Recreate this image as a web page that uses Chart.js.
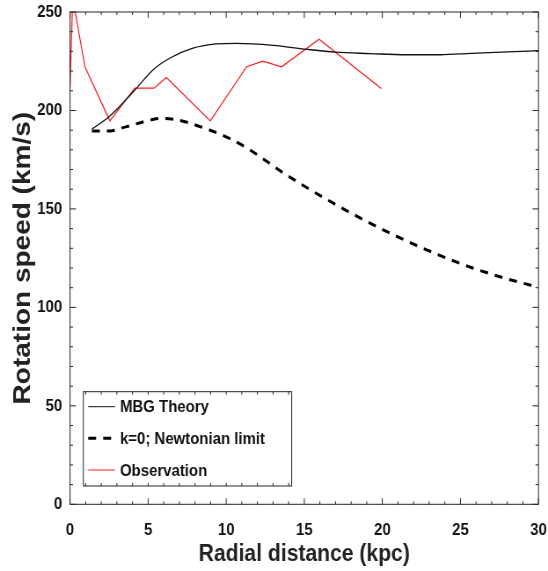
<!DOCTYPE html>
<html><head><meta charset="utf-8">
<script src="https://cdn.jsdelivr.net/npm/chart.js@4.4.1/dist/chart.umd.min.js"></script>
<style>html,body{margin:0;padding:0;background:#fff;overflow:hidden}</style>
</head><body>
<canvas id="c" width="623" height="571" style="width:548px;height:571px;display:block"></canvas>
<script>
// ---- data ----
const obsX  = [0, 0.17, 0.96, 2.55, 4.15, 5.38, 6.17, 8.98, 11.31, 12.34, 13.55, 15.95, 19.93];
const obsY  = [211, 257, 222, 194.7, 211.3, 211.3, 216.7, 194.7, 222.2, 225, 222.2, 236.2, 211.1];
const mbgX  = [1.4, 2.55, 4.15, 5.31, 6.38, 7.87, 9.36, 10.64, 13.0, 15.1, 17.0, 19.2, 21.5, 23.7, 25.7, 28.0, 30];
const mbgY  = [190.5, 197.2, 210.4, 220.6, 226.5, 231.6, 233.8, 234.1, 233.1, 231.1, 229.6, 228.9, 228.3, 228.3, 229.0, 229.7, 230.4];
const newtX = [1.4, 2.55, 3.63, 5.95, 8.93, 11.1, 13.87, 16.86, 19.85, 22.84, 25.82, 29.45, 30];
const newtY = [189.6, 189.6, 191.8, 196.0, 190.1, 182.0, 167.2, 152.9, 140.2, 129.2, 119.9, 111.4, 110.5];
const xTickLabels = [0, 5, 10, 15, 20, 25, 30];
const yTickLabels = [0, 50, 100, 150, 200, 250];
const seriesLabels = ['MBG Theory', 'k=0; Newtonian limit', 'Observation'];

const toPts = (xs, ys) => xs.map((x, i) => ({x, y: ys[i]}));
const FAM = "'Liberation Sans', Arial, sans-serif";
const FRAME = '#262626';

const frameTicks = {
  id: 'frameTicks',
  afterDatasetsDraw(chart) {
    const {ctx, chartArea: a, scales: {x, y}} = chart;
    ctx.save();
    ctx.strokeStyle = FRAME; ctx.lineWidth = 1;
    ctx.beginPath();
    x.ticks.forEach(t => {
      const px = x.getPixelForValue(t.value);
      const L = xTickLabels.includes(t.value) ? 6 : 3;
      ctx.moveTo(px, a.bottom); ctx.lineTo(px, a.bottom - L);
      ctx.moveTo(px, a.top); ctx.lineTo(px, a.top + L);
    });
    y.ticks.forEach(t => {
      const py = y.getPixelForValue(t.value);
      const L = yTickLabels.includes(t.value) ? 6.8 : 3.4;
      ctx.moveTo(a.left, py); ctx.lineTo(a.left + L, py);
      ctx.moveTo(a.right, py); ctx.lineTo(a.right - L, py);
    });
    ctx.stroke();
    ctx.strokeRect(a.left, a.top, a.right - a.left, a.bottom - a.top);
    ctx.restore();
  }
};

const legendBox = {
  id: 'legendBox',
  afterDraw(chart) {
    const ctx = chart.ctx;
    const L = 94.7, R = 331.6, T = 391.7, B = 486;
    const x = chart.scales.x;
    ctx.save();
    ctx.fillStyle = '#fff';
    ctx.fillRect(L, T, R - L, B - T);
    ctx.strokeStyle = FRAME; ctx.lineWidth = 1;
    ctx.beginPath();
    x.ticks.forEach(t => {
      const px = x.getPixelForValue(t.value);
      if (px > L + 2 && px < R - 2) {
        ctx.moveTo(px, T); ctx.lineTo(px, T + 3);
        ctx.moveTo(px, B); ctx.lineTo(px, B - 3);
      }
    });
    ctx.stroke();
    ctx.strokeRect(L, T, R - L, B - T);
    const rows = [406.7, 438.3, 470];
    chart.data.datasets.forEach((ds, i) => {
      ctx.save();
      ctx.strokeStyle = ds.borderColor;
      ctx.lineWidth = ds.legendWidth;
      ctx.setLineDash(ds.borderDash || []);
      ctx.beginPath();
      ctx.moveTo(100.3, rows[i]); ctx.lineTo(130.7, rows[i]);
      ctx.stroke();
      ctx.restore();
      ctx.fillStyle = '#111';
      ctx.font = "bold 17px " + FAM;
      ctx.textBaseline = 'middle';
      ctx.textAlign = 'left';
      ctx.fillText(ds.label, 136.4, rows[i] + 1);
    });
    ctx.restore();
  }
};

new Chart(document.getElementById('c'), {
  type: 'scatter',
  data: {
    datasets: [
      {label: seriesLabels[0], data: toPts(mbgX, mbgY), showLine: true, borderColor: '#111', borderWidth: 1.3,
       legendWidth: 1, pointRadius: 0, cubicInterpolationMode: 'monotone'},
      {label: seriesLabels[1], data: toPts(newtX, newtY), showLine: true, borderColor: '#000', borderWidth: 3,
       legendWidth: 3, borderDash: [9, 8], pointRadius: 0, cubicInterpolationMode: 'monotone'},
      {label: seriesLabels[2], data: toPts(obsX, obsY), showLine: true, borderColor: '#ff1a1a', borderWidth: 1.2,
       legendWidth: 1, pointRadius: 0, tension: 0}
    ]
  },
  options: {
    responsive: false,
    animation: false,
    devicePixelRatio: 1,
    layout: {padding: {top: 12, right: 10.8, left: 0, bottom: 0}},
    plugins: {legend: {display: false}, tooltip: {enabled: false}},
    scales: {
      x: {
        type: 'linear', min: 0, max: 30,
        grid: {display: false, drawTicks: false},
        border: {display: false},
        ticks: {stepSize: 1, autoSkip: false, maxRotation: 0, minRotation: 0, padding: 16, color: '#111',
                font: {family: FAM, weight: 'bold', size: 17},
                callback: v => xTickLabels.includes(v) ? String(v) : ''},
        title: {display: true, text: 'Radial distance (kpc)', color: '#222',
                font: {family: FAM, weight: 'bold', size: 24, lineHeight: 1.2}, padding: {top: 0, bottom: 2}},
        afterFit: s => { s.height = 66.7; s.paddingLeft = 0; s.paddingRight = 0; }
      },
      y: {
        type: 'linear', min: 0, max: 250,
        grid: {display: false, drawTicks: false},
        border: {display: false},
        ticks: {stepSize: 10, autoSkip: false, padding: 9, color: '#111',
                font: {family: FAM, weight: 'bold', size: 17},
                callback: v => yTickLabels.includes(v) ? String(v) : ''},
        title: {display: true, text: 'Rotation speed (km/s)', color: '#222',
                font: {family: FAM, weight: 'bold', size: 28, lineHeight: 1.2}, padding: {top: 9, bottom: 0}},
        afterFit: s => { s.width = 79.6; s.paddingTop = 0; s.paddingBottom = 0; }
      }
    }
  },
  plugins: [frameTicks, legendBox]
});
</script>
</body></html>
